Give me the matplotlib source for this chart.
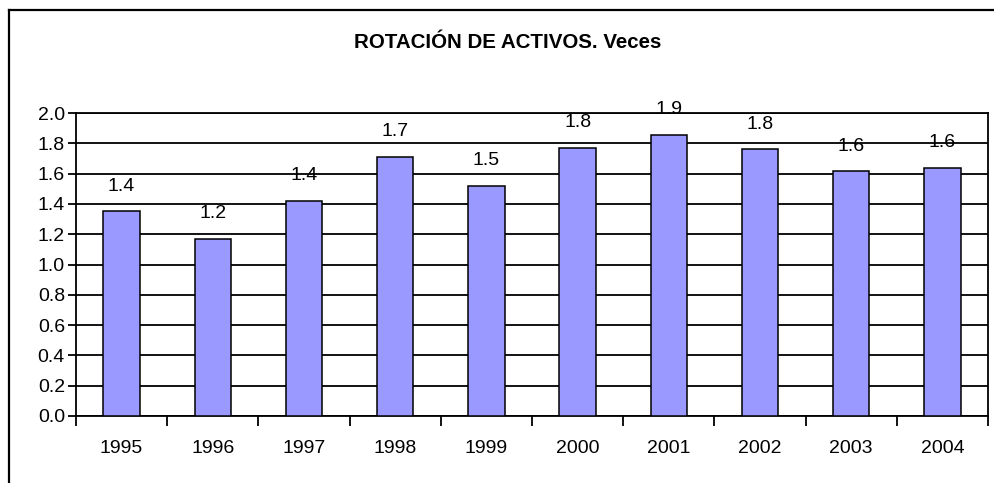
"""
Rotación de activos (veces), 1995-2004 - Excel style bar chart
"""

import matplotlib
matplotlib.use("Agg")
import matplotlib.pyplot as plt
import numpy as np
from matplotlib.lines import Line2D

# ==================== Data ====================

years = ["1995", "1996", "1997", "1998", "1999", "2000", "2001", "2002", "2003", "2004"]
rotation = [1.35, 1.17, 1.42, 1.71, 1.52, 1.77, 1.855, 1.76, 1.615, 1.64]
y_ticks = [0.0, 0.2, 0.4, 0.6, 0.8, 1.0, 1.2, 1.4, 1.6, 1.8, 2.0]
title = "ROTACIÓN DE ACTIVOS. Veces"

# ==================== Plot ====================

plt.rcParams['font.family'] = ['Liberation Sans', 'DejaVu Sans']
W, H = 994, 483
fs = 14
fig = plt.figure(figsize=(W / 100, H / 100), dpi=100)
fig.patch.set_facecolor("white")

# chart border (only top and left edges are visible in the crop)
fig.add_artist(Line2D([9 / W, 9 / W], [0, 1 - 10 / H], color="black", lw=1.6, transform=fig.transFigure))
fig.add_artist(Line2D([9 / W, 1], [1 - 10 / H, 1 - 10 / H], color="black", lw=1.6, transform=fig.transFigure))

ax = fig.add_axes([76 / W, 1 - 416 / H, (988 - 76) / W, (416 - 113) / H])

x = np.arange(len(years))
ax.bar(x, rotation, width=0.4, color="#9999FF", edgecolor="black", linewidth=1.1, zorder=3)

# value labels above each bar
for xi, v in zip(x, rotation):
    ax.annotate(f"{v:.1f}", (xi, v), xytext=(0, 18), textcoords="offset points",
                ha="center", va="center", fontsize=fs, color="black", zorder=4)

ax.set_xlim(-0.5, len(years) - 0.5)
ax.set_ylim(0, 2.0)
ax.set_yticks(y_ticks)
ax.set_yticklabels([f"{t:.1f}" for t in y_ticks], fontsize=fs)
ax.tick_params(axis="y", length=6, width=1.3, pad=2, direction="out")

ax.set_xticks(x)
ax.set_xticklabels(years, fontsize=fs)
ax.set_xticks(np.arange(-0.5, len(years)), minor=True)
ax.tick_params(axis="x", which="major", length=0, pad=17)
ax.tick_params(axis="x", which="minor", length=7, width=1.3, direction="out")

ax.grid(axis="y", color="black", linewidth=1.3, zorder=1)
ax.set_axisbelow(True)
for s in ax.spines.values():
    s.set_linewidth(1.3)
    s.set_color("black")

fig.text(508 / W, 1 - 42 / H, title, ha="center", va="center",
         fontsize=14.8, fontweight="bold")

fig.savefig("out.png", dpi=100)
